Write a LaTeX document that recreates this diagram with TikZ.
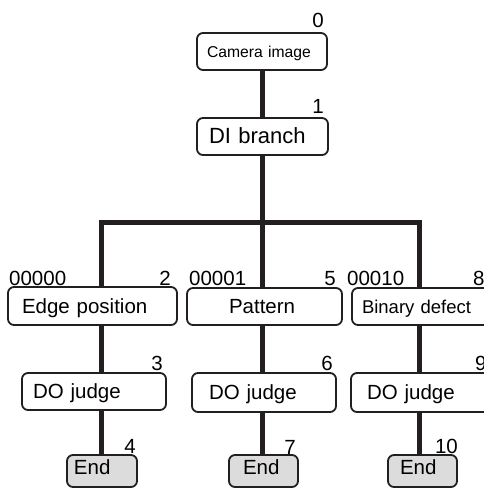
\documentclass[tikz,border=0pt]{standalone}
\usepackage{fontspec}
\setmainfont{Liberation Sans}
\definecolor{ink}{HTML}{231F20}
\definecolor{endfill}{HTML}{DCDCDC}
\begin{document}
\begin{tikzpicture}[x=1pt,y=-1pt,
  box/.style={draw=ink, fill=white, line width=1.8pt, rounded corners=6pt,
    outer sep=0pt, inner ysep=0pt, align=left, text height=14.7pt, text depth=0pt,
    font=\fontsize{20.5}{24}\selectfont},
  endbox/.style={box, fill=endfill, text depth=8pt},
  conn/.style={draw=ink, line width=5pt},
  lab/.style={inner sep=0pt, text height=14.7pt, text depth=0pt, font=\fontsize{20.5}{24}\selectfont}
]
\clip (0,0) rectangle (484,488);
% boxes: center, width, height, left text offset
\node[box, minimum width=130pt, minimum height=37pt, inner xsep=10pt, text width=110pt,
      text height=11.2pt, font=\fontsize{15.7}{19}\selectfont] (cam) at (262,51.5) {Camera image};
\node[box, minimum width=131pt, minimum height=37pt, inner xsep=12pt, text width=107pt,
      text height=15.7pt, text depth=2pt, font=\fontsize{22}{26}\selectfont] (di) at (262.5,136.5) {DI branch};
\node[box, minimum width=169pt, minimum height=38pt, inner xsep=14pt, text width=141pt] (edge) at (92.5,306) {Edge position};
\node[box, minimum width=144pt, minimum height=37pt, inner xsep=11pt, text width=122pt] (do1) at (94,391.5) {DO judge};
\node[endbox, minimum width=70pt, minimum height=32pt, inner xsep=7pt, text width=56pt] (end1) at (102,471) {End};
\node[box, minimum width=155pt, minimum height=37pt, inner xsep=42pt, text width=71pt] (pat) at (264.5,306.5) {Pattern};
\node[box, minimum width=144pt, minimum height=39pt, inner xsep=17pt, text width=110pt] (do2) at (264,392.5) {DO judge};
\node[endbox, minimum width=69pt, minimum height=32pt, inner xsep=14pt, text width=41pt] (end2) at (263.5,471) {End};
\node[box, minimum width=148pt, minimum height=37pt, inner xsep=10pt, text width=128pt,
      text height=13.2pt, font=\fontsize{18.5}{22}\selectfont] (bin) at (426,306.5) {Binary defect};
\node[box, minimum width=149pt, minimum height=39pt, inner xsep=16pt, text width=117pt] (do3) at (425.5,392.5) {DO judge};
\node[endbox, minimum width=69pt, minimum height=32pt, inner xsep=12pt, text width=45pt] (end3) at (422.5,471) {End};
% junction coordinates
\coordinate (jm) at (262,222);
\coordinate (jl) at (101,222);
\coordinate (jr) at (419,222);
% connectors
\draw[conn] (cam.south -| jm) -- (di.north -| jm);
\draw[conn] (di.south -| jm) -- (jm |- pat.north);
\draw[conn] (jl |- edge.north) -- (jl) -- (jr) -- (jr |- bin.north);
\draw[conn] (edge.south -| jl) -- (do1.north -| jl);
\draw[conn] (do1.south -| jl) -- (end1.north -| jl);
\draw[conn] (pat.south -| jm) -- (do2.north -| jm);
\draw[conn] (do2.south -| jm) -- (end2.north -| jm);
\draw[conn] (bin.south -| jr) -- (do3.north -| jr);
\draw[conn] (do3.south -| jr) -- (end3.north -| jr);
% labels
\node[lab, anchor=east] (l0) at (324,20) {0};
\node[lab, anchor=east] (l1) at (324,106) {1};
\node[lab, anchor=west] (c1) at (9,278) {00000};
\node[lab, anchor=east] (l2) at (171,278) {2};
\node[lab, anchor=east] (l3) at (163,363.5) {3};
\node[lab, anchor=east] (l4) at (136,446) {4};
\node[lab, anchor=west] (c2) at (189,278) {00001};
\node[lab, anchor=east] (l5) at (336,278) {5};
\node[lab, anchor=east] (l6) at (333,363) {6};
\node[lab, anchor=east] (l7) at (296,447) {7};
\node[lab, anchor=west] (c3) at (347,278) {00010};
\node[lab, anchor=west] (l8) at (473,278) {8};
\node[lab, anchor=west] (l9) at (475,363) {9};
\node[lab, anchor=east] (l10) at (458,446) {10};
\end{tikzpicture}
\end{document}
